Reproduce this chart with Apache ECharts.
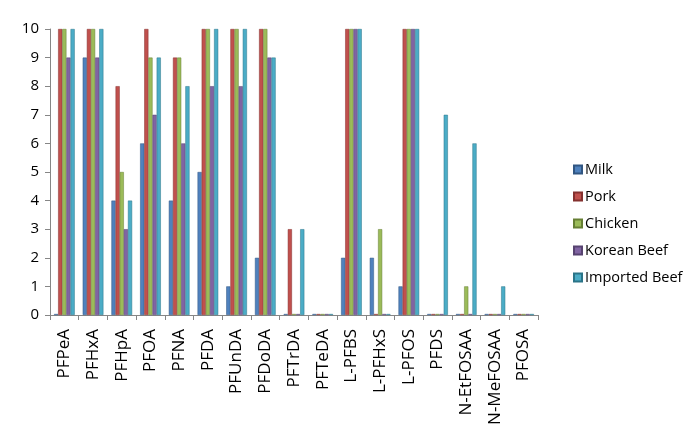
<!DOCTYPE html>
<html><head><meta charset="utf-8">
<script src="https://cdn.jsdelivr.net/npm/echarts@6/dist/echarts.min.js"></script>
<style>html,body{margin:0;padding:0;background:#fff}#c{width:693px;height:448px}</style>
</head><body><div id="c"></div>
<script>
const categories = ['PFPeA','PFHxA','PFHpA','PFOA','PFNA','PFDA','PFUnDA','PFDoDA','PFTrDA','PFTeDA','L-PFBS','L-PFHxS','L-PFOS','PFDS','N-EtFOSAA','N-MeFOSAA','PFOSA'];
const milk     = [0,9,4,6,4,5,1,2,0,0,2,2,1,0,0,0,0];
const pork     = [10,10,8,10,9,10,10,10,3,0,10,0,10,0,0,0,0];
const chicken  = [10,10,5,9,9,10,10,10,0,0,10,3,10,0,1,0,0];
const korean   = [9,9,3,7,6,8,8,9,0,0,10,0,10,0,0,0,0];
const imported = [10,10,4,9,8,10,10,9,3,0,10,0,10,7,6,1,0];
const seriesNames = ['Milk','Pork','Chicken','Korean Beef','Imported Beef'];
const seriesData = [milk, pork, chicken, korean, imported];
const colors = ['#4F81BD','#C0504D','#9BBB59','#8064A2','#4BACC6'];
const yTicks = [0,1,2,3,4,5,6,7,8,9,10];

const chart = echarts.init(document.getElementById('c'), null, {renderer:'canvas'});
chart.setOption({
  animation:false,
  color: colors,
  textStyle:{fontFamily:'Open Sans'},
  legend:{
    orient:'vertical', left:568, top:157, itemGap:12,
    itemWidth:8, itemHeight:8, icon:'rect',
    textStyle:{fontSize:14.5, color:'#000', fontFamily:'Open Sans', padding:[0,0,0,-2]},
    data: seriesNames
  },
  grid:{left:50, right:155, top:29, bottom:133},
  xAxis:{
    type:'category', data:categories,
    axisLine:{lineStyle:{color:'#868686'}},
    axisTick:{show:true, alignWithLabel:false, length:5, lineStyle:{color:'#868686'}},
    axisLabel:{rotate:90, fontSize:17, color:'#000', margin:14, interval:0, fontFamily:'Open Sans'}
  },
  yAxis:{
    type:'value', min:0, max:10, interval:1,
    axisLine:{show:true, lineStyle:{color:'#868686'}},
    axisTick:{show:true, length:5, lineStyle:{color:'#868686'}},
    splitLine:{show:false},
    axisLabel:{fontSize:15, color:'#000', margin:11, fontFamily:'Open Sans',
      formatter: v => yTicks.includes(v) ? String(v) : ''}
  },
  series: seriesData.map((d,i)=>({
    name: seriesNames[i], type:'bar', data:d,
    barGap:'0%', barCategoryGap:'28%', barMinHeight:1,
    itemStyle:{color:colors[i], borderColor:echarts.color.modifyHSL(colors[i], null, null, 0.35) , borderWidth:0.5}
  }))
});
</script></body></html>
